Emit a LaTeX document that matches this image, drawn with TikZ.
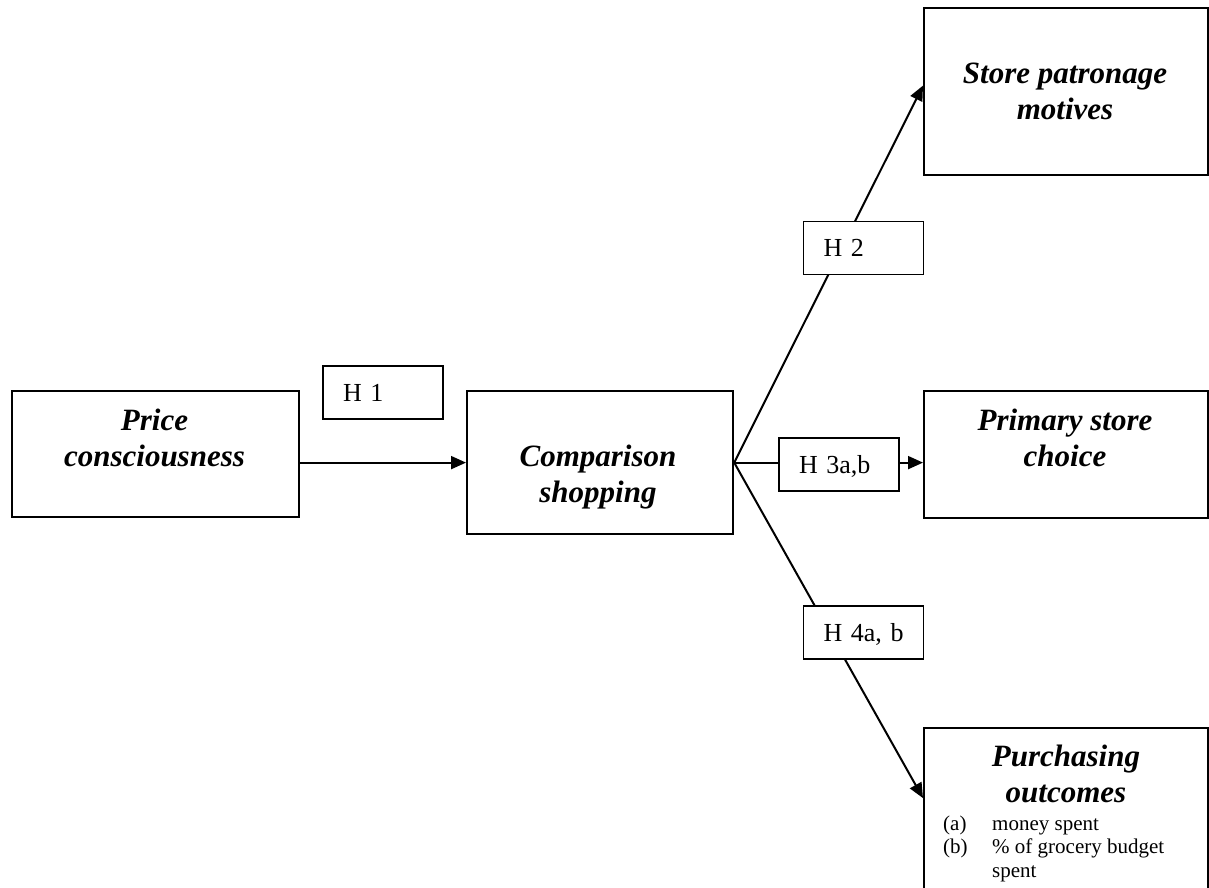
\documentclass[tikz,border=0pt]{standalone}
\usepackage{fontspec}
\setmainfont{Liberation Serif}
\usetikzlibrary{arrows.meta}
\begin{document}
\begin{tikzpicture}[x=1pt,y=-1pt,
  box/.style={draw, line width=2.2pt, inner sep=0pt, anchor=north west},
  hbox/.style={draw, fill=white, line width=1.8pt, minimum width=120pt, minimum height=53pt,
    text width=120pt, inner xsep=0pt, inner ysep=0pt, align=left,
    execute at begin node={\hspace*{20pt}},
    text height=17pt, text depth=0pt, font=\fontsize{26}{30}\selectfont},
  title/.style={font=\fontsize{31}{36}\selectfont\bfseries\itshape, align=center, inner sep=0pt, anchor=base},
  conn/.style={line width=2pt, -{Triangle[length=15pt,width=13pt]}},
]
\useasboundingbox (0,0) rectangle (1209,887);
\clip (0,0) rectangle (1209,887);

% main boxes
\node[box, minimum width=287pt, minimum height=126pt] (price) at (11,390) {};
\node[box, minimum width=266pt, minimum height=143pt] (comp) at (466,390) {};
\node[box, minimum width=284pt, minimum height=167pt] (store) at (923,7) {};
\node[box, minimum width=284pt, minimum height=127pt] (primary) at (923,390) {};
\node[box, minimum width=284pt, minimum height=180pt] (purch) at (923,727) {};

% titles (anchored at the baseline of their last line)
\node[title] (priceT) at (154.5,466) {Price\\consciousness};
\node[title] (compT) at (598,502) {Comparison\\shopping};
\node[title] (storeT) at (1065,119) {Store patronage\\motives};
\node[title] (primaryT) at (1065,466) {Primary store\\choice};
\node[title] (purchT) at (1066,802) {Purchasing\\outcomes};

\node[anchor=base west, inner sep=0pt, font=\fontsize{21}{23.5}\selectfont] (plist) at (943,830)
  {\begin{tabular}[t]{@{}p{49pt}@{}l@{}}(a)&money spent\\(b)&\% of grocery budget\\&spent\end{tabular}};

% connectors
\draw[conn] (price.east |- comp.west) -- (comp.west);
\draw[conn] (comp.east) -- ([yshift=6pt]store.west);
\draw[conn] (comp.east) -- (primary.west |- comp.east);
\draw[conn] (comp.east) -- ([yshift=20pt]purch.west);

% hypothesis labels
\node[hbox] (h1) at (383,392.5) {H 1};
\node[hbox] (h2) at (863.5,248) {H 2};
\node[hbox] (h3) at (839,464.5) {H 3a,b};
\node[hbox] (h4) at (863.5,632.5) {H 4a, b};
\end{tikzpicture}
\end{document}
